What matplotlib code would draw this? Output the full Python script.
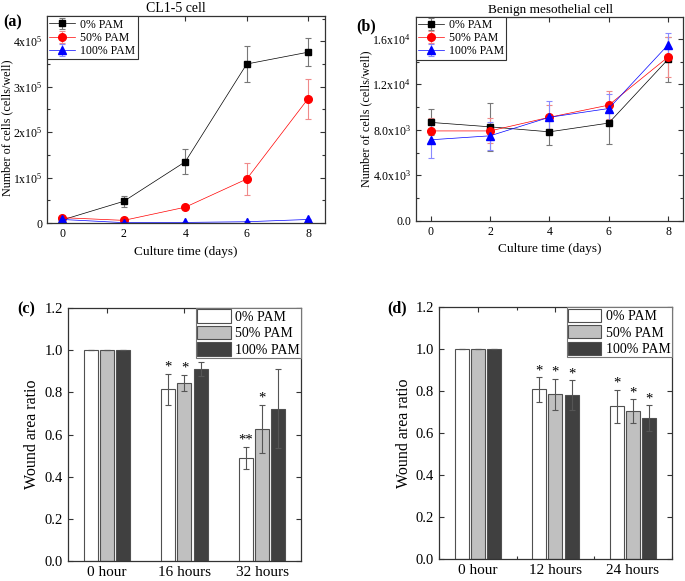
import numpy as np
import matplotlib
matplotlib.use('Agg')
import matplotlib.pyplot as plt
from matplotlib.ticker import MultipleLocator

plt.rcParams['font.family'] = ['Liberation Serif', 'DejaVu Serif']
plt.rcParams['mathtext.fontset'] = 'custom'
plt.rcParams['mathtext.rm'] = 'Liberation Serif'
plt.rcParams['mathtext.it'] = 'Liberation Serif:italic'
plt.rcParams['xtick.direction'] = 'in'
plt.rcParams['ytick.direction'] = 'in'

# growth curves (cells/well)
days = [0, 2, 4, 6, 8]
groups = ['0% PAM', '50% PAM', '100% PAM']

cl15_0 = [7e3, 48e3, 135e3, 350e3, 376e3]
cl15_0_err = [3e3, 12e3, 27e3, 40e3, 31e3]
cl15_50 = [12e3, 6e3, 35e3, 97e3, 274e3]
cl15_50_err = [3e3, 2e3, 5e3, 36e3, 44e3]
cl15_100 = [8e3, 1e3, 1.5e3, 3e3, 8e3]
cl15_100_err = [2e3, 0.5e3, 0.5e3, 1e3, 2e3]

benign_0 = [8650, 8260, 7820, 8590, 14200]
benign_0_err = [1150, 2100, 1150, 1800, 2000]
benign_50 = [7900, 7900, 9100, 10170, 14400]
benign_50_err = [1100, 1100, 1100, 1230, 1800]
benign_100 = [7120, 7470, 9100, 9870, 15470]
benign_100_err = [1560, 1250, 1400, 1300, 1030]

cl15_yticks = [0, 1e5, 2e5, 3e5, 4e5]
cl15_ylabels = ['0', '1x10$^5$', '2x10$^5$', '3x10$^5$', '4x10$^5$']
benign_yticks = [0, 4000, 8000, 12000, 16000]
benign_ylabels = ['0.0', '4.0x10$^3$', '8.0x10$^3$', '1.2x10$^4$', '1.6x10$^4$']

# wound healing
hours_c = ['0 hour', '16 hours', '32 hours']
wound_c_0 = [1.0, 0.815, 0.489]
wound_c_0_err = [0, 0.073, 0.052]
wound_c_50 = [1.0, 0.845, 0.625]
wound_c_50_err = [0, 0.037, 0.115]
wound_c_100 = [1.0, 0.911, 0.722]
wound_c_100_err = [0, 0.033, 0.188]
stars_c_0 = ['', '*', '**']
stars_c_50 = ['', '*', '*']
stars_c_100 = ['', '', '']

hours_d = ['0 hour', '12 hours', '24 hours']
wound_d_0 = [1.0, 0.808, 0.727]
wound_d_0_err = [0, 0.058, 0.08]
wound_d_50 = [1.0, 0.785, 0.705]
wound_d_50_err = [0, 0.075, 0.056]
wound_d_100 = [1.0, 0.781, 0.670]
wound_d_100_err = [0, 0.07, 0.062]
stars_d_0 = ['', '*', '*']
stars_d_50 = ['', '*', '*']
stars_d_100 = ['', '*', '*']

line_colors = ['black', 'red', 'blue']
err_colors = ['#777777', '#f08a8a', '#8a8aff']
markers = ['s', 'o', '^']
msizes = [5, 5.5, 6]
bar_colors = ['white', '#c0c0c0', '#404040']
frame_col = '#333333'

fig = plt.figure(figsize=(6.85, 5.81), dpi=100)
ax_a = fig.add_axes([0.0686, 0.616, 0.406, 0.356])
ax_b = fig.add_axes([0.607, 0.620, 0.390, 0.3516])
ax_c = fig.add_axes([0.0993, 0.0344, 0.340, 0.4355])
ax_d = fig.add_axes([0.641, 0.0384, 0.3397, 0.4327])


def style_frame(ax, size):
    for sp in ax.spines.values():
        sp.set_color(frame_col)
        sp.set_linewidth(0.9)
    ax.tick_params(which='both', top=True, right=True, colors=frame_col,
                   labelcolor='black', labelsize=size, width=0.8)
    ax.tick_params(which='major', length=3.5)
    ax.tick_params(which='minor', length=2)


def growth(ax, series, errs, yticks, ylabels, ylim):
    for i in range(3):
        ax.errorbar(days, series[i], yerr=errs[i], color=line_colors[i],
                    ecolor=err_colors[i], elinewidth=0.8, capsize=2, capthick=0.8,
                    lw=0.5, marker=markers[i], ms=msizes[i], label=groups[i])
    ax.set_xlim(-0.5, 8.55)
    ax.set_ylim(*ylim)
    ax.set_xticks(days)
    ax.set_yticks(yticks)
    ax.set_yticklabels(ylabels)
    ax.yaxis.set_minor_locator(MultipleLocator(yticks[1] / 2))
    style_frame(ax, 8.5)
    ax.set_xlabel('Culture time (days)', fontsize=9.5)
    ax.set_ylabel('Number of cells (cells/well)', fontsize=8.7)
    leg = ax.legend(loc='upper left', fontsize=8.5, borderaxespad=0, fancybox=False,
                    framealpha=1, edgecolor='#333333', handlelength=2.2,
                    labelspacing=0.1, borderpad=0.2, handletextpad=0.4)
    leg.get_frame().set_linewidth(0.8)


growth(ax_a, [cl15_0, cl15_50, cl15_100], [cl15_0_err, cl15_50_err, cl15_100_err],
       cl15_yticks, cl15_ylabels, (0, 4.55e5))
ax_a.yaxis.set_label_coords(-0.122, 0.46)
ax_a.xaxis.set_label_coords(0.5, -0.111)

growth(ax_b, [benign_0, benign_50, benign_100], [benign_0_err, benign_50_err, benign_100_err],
       benign_yticks, benign_ylabels, (0, 17960))
ax_b.set_xlim(-0.5, 8.5)
ax_b.yaxis.set_label_coords(-0.161, 0.5)
ax_b.xaxis.set_label_coords(0.5, -0.108)


def wound(ax, labels, vals, errs, stars, minor):
    x = np.arange(len(labels))
    w = 0.18
    off = 0.21
    for i in range(3):
        xs = x + (i - 1) * off
        ax.bar(xs, vals[i], width=w, color=bar_colors[i], edgecolor='#505050',
               linewidth=0.8, label=groups[i], zorder=2)
        ax.errorbar(xs, vals[i], yerr=errs[i], fmt='none', ecolor='#555555',
                    elinewidth=0.8, capsize=2.5, capthick=0.8, zorder=3)
        for j in range(len(labels)):
            if stars[i][j]:
                ax.annotate(stars[i][j], (xs[j], vals[i][j] + errs[i][j]),
                            xytext=(0, 0), textcoords='offset points',
                            ha='center', va='bottom', fontsize=10.5)
    ax.set_xlim(-0.5, 2.5)
    ax.set_ylim(0, 1.2)
    ax.set_xticks(x)
    ax.set_xticklabels(labels)
    ax.set_yticks(np.arange(0, 1.21, 0.2))
    ax.set_yticklabels([f'{v:.1f}' for v in np.arange(0, 1.21, 0.2)])
    if minor:
        ax.xaxis.set_minor_locator(MultipleLocator(0.5))
    style_frame(ax, 10.5)
    ax.tick_params(axis='x', which='major', labelsize=11)
    ax.set_ylabel('Wound area ratio', fontsize=11.5)
    leg = ax.legend(loc='upper right', fontsize=10, borderaxespad=0, fancybox=False,
                    framealpha=1, edgecolor='#777777', handlelength=2.4,
                    handleheight=1.1, labelspacing=0.15, borderpad=0.1,
                    handletextpad=0.3)
    leg.get_frame().set_linewidth(0.8)


wound(ax_c, hours_c, [wound_c_0, wound_c_50, wound_c_100],
      [wound_c_0_err, wound_c_50_err, wound_c_100_err],
      [stars_c_0, stars_c_50, stars_c_100], False)
ax_c.yaxis.set_label_coords(-0.12, 0.5)

wound(ax_d, hours_d, [wound_d_0, wound_d_50, wound_d_100],
      [wound_d_0_err, wound_d_50_err, wound_d_100_err],
      [stars_d_0, stars_d_50, stars_d_100], True)
ax_d.yaxis.set_label_coords(-0.116, 0.5)

# titles and panel letters
fig.text(176 / 685, 1 - 9 / 581, 'CL1-5 cell', ha='center', va='center', fontsize=10)
fig.text(550 / 685, 1 - 10 / 581, 'Benign mesothelial cell', ha='center', va='center', fontsize=9.5)
fig.text(3 / 685, 1 - 22 / 581, '(a)', fontweight='bold', va='center', fontsize=11.5)
fig.text(356 / 685, 1 - 26 / 581, '(b)', fontweight='bold', va='center', fontsize=11.5)
fig.text(17 / 685, 1 - 309 / 581, '(c)', fontweight='bold', va='center', fontsize=11.5)
fig.text(387 / 685, 1 - 308 / 581, '(d)', fontweight='bold', va='center', fontsize=11.5)

fig.savefig('out.png', dpi=100)
